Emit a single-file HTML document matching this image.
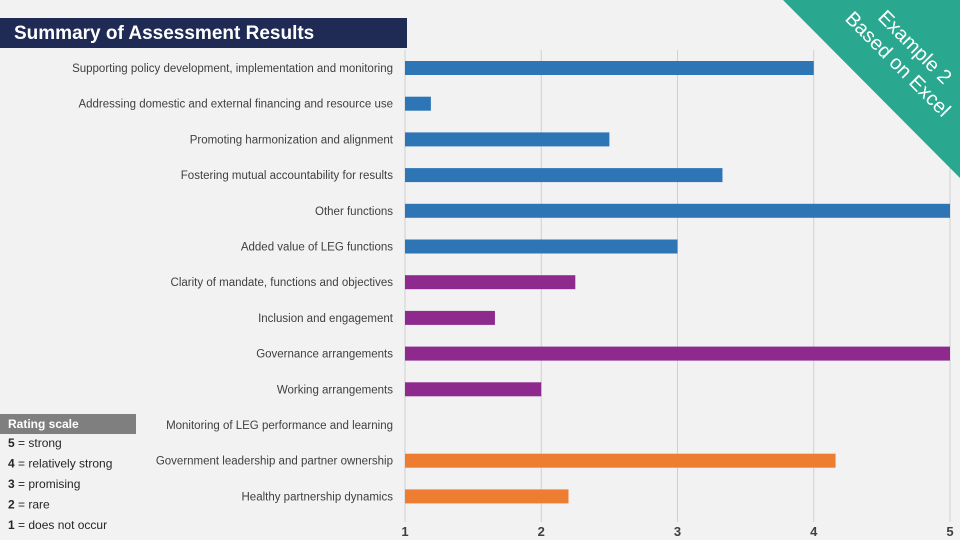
<!DOCTYPE html>
<html><head><meta charset="utf-8"><style>
body{margin:0;width:960px;height:540px;background:#f2f2f2;overflow:hidden;font-family:"Liberation Sans",sans-serif;position:relative}
#title{position:absolute;left:0;top:18px;width:407px;height:30px;background:#1f2a55;color:#fff;font:bold 19px "Liberation Sans",sans-serif;line-height:31px;padding-left:14px;box-sizing:border-box}
svg{position:absolute;left:0;top:0}
</style></head><body>
<svg id="chart" width="960" height="540"></svg>
<div id="title">Summary of Assessment Results</div>
<svg width="960" height="540">
<polygon points="783,0 960,0 960,178" fill="#2aa88f"/>
<g transform="translate(906,56) rotate(45)" font-family="Liberation Sans,sans-serif" font-size="20" fill="#fff" text-anchor="middle" dominant-baseline="central">
<text x="0" y="-12">Example 2</text>
<text x="0" y="12">Based on Excel</text>
</g>
</svg>
<script>
const categories=["Supporting policy development, implementation and monitoring","Addressing domestic and external financing and resource use","Promoting harmonization and alignment","Fostering mutual accountability for results","Other functions","Added value of LEG functions","Clarity of mandate, functions and objectives","Inclusion and engagement","Governance arrangements","Working arrangements","Monitoring of LEG performance and learning","Government leadership and partner ownership","Healthy partnership dynamics"];
const values=[4.0,1.19,2.5,3.33,5.0,3.0,2.25,1.66,5.0,2.0,1.0,4.16,2.2];
const groups=["a","a","a","a","a","a","b","b","b","b","c","c","c"];
const ticks=[1,2,3,4,5];
const legendLabels=["5 = strong","4 = relatively strong","3 = promising","2 = rare","1 = does not occur"];
const colors={a:"#2e75b6",b:"#8e2a8e",c:"#ed7d31"};
const svg=document.getElementById('chart');const NS="http://www.w3.org/2000/svg";
function mk(t,a){const e=document.createElementNS(NS,t);for(const k in a)e.setAttribute(k,a[k]);svg.appendChild(e);return e;}
const x=v=>405+(v-1)*(950-405)/4;
const y=i=>68+i*35.7;
ticks.forEach(t=>{
const l=mk('line',{x1:x(t),x2:x(t),y1:50,y2:522,stroke:'#d0d0d0','stroke-width':1});


const tx=mk('text',{x:x(t),y:536,'text-anchor':'middle','font-size':13,fill:'#404040','font-weight':'bold'});tx.textContent=t;


});
categories.forEach((c,i)=>{
const r=mk('rect',{x:x(1),y:y(i)-7,width:Math.max(0,x(values[i])-x(1)),height:14,fill:colors[groups[i]]});


const t=mk('text',{x:393,y:y(i)+4,'text-anchor':'end','font-size':11.5,fill:'#404040'});t.textContent=c;


});
const lh=mk('rect',{x:0,y:414,width:136,height:20,fill:'#7f7f7f'});


const lt=mk('text',{x:8,y:428,'font-size':12,fill:'#fff','font-weight':'bold'});lt.textContent="Rating scale";


legendLabels.forEach((s,i)=>{
const t=mk('text',{x:8,y:447+i*20.5,'font-size':12,fill:'#262626'});
const p=s.split(' = ');
t.innerHTML='<tspan font-weight="bold">'+p[0]+'</tspan> =  '+p[1];


});
</script>
</body></html>
